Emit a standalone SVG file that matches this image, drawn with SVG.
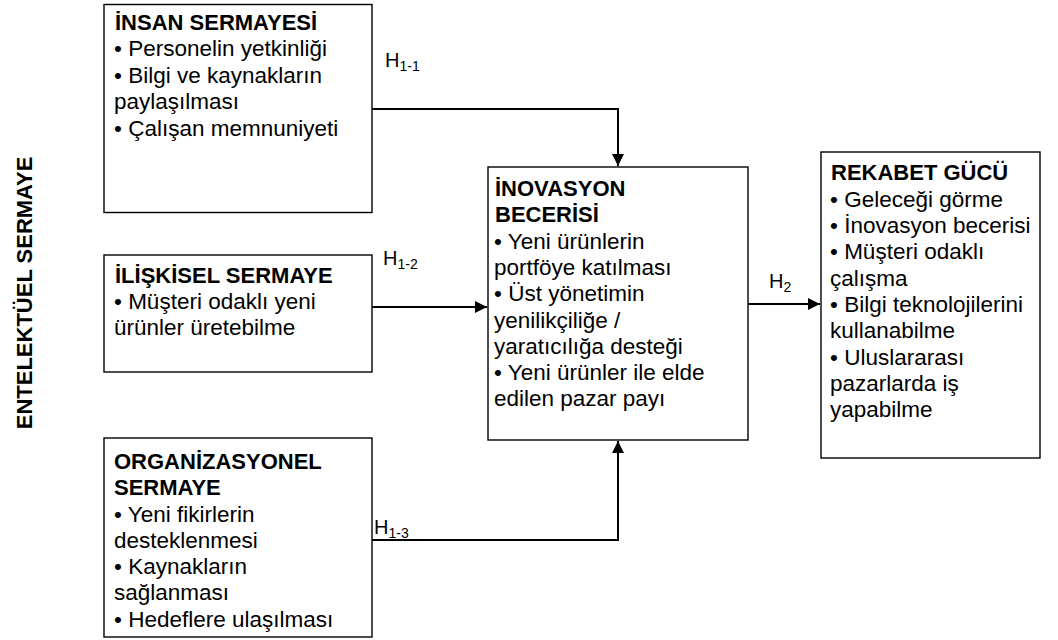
<svg xmlns="http://www.w3.org/2000/svg" width="1058" height="640" viewBox="0 0 1058 640">
  <style>
    .box { fill: #ffffff; stroke: #000000; stroke-width: 1.4; }
    .t { font-family: "Liberation Sans", Arial, sans-serif; font-size: 22.5px; fill: #000000; }
    .b { font-weight: bold; font-size: 22px; }
    .h { font-family: "Liberation Sans", Arial, sans-serif; font-size: 20px; fill: #000000; }
    .sub { font-size: 14px; }
    .edge { fill: none; stroke: #000000; stroke-width: 2; }
  </style>
  <defs>
    <marker id="arrow" viewBox="0 0 10 10" refX="10" refY="5" markerWidth="6" markerHeight="6" markerUnits="strokeWidth" orient="auto">
      <path d="M0,0 L10,5 L0,10 Z" fill="#000000"/>
    </marker>
  </defs>

  <rect width="1058" height="640" fill="#ffffff"/>

  <!-- side caption -->
  <text class="t b" transform="translate(32,293) rotate(-90)" text-anchor="middle">ENTELEKTÜEL SERMAYE</text>

  <!-- connectors -->
  <g id="connectors">
    <path class="edge" d="M372,109 H618 V166" marker-end="url(#arrow)"/>
    <path class="edge" d="M372,307 H487" marker-end="url(#arrow)"/>
    <path class="edge" d="M372,540 H618 V441" marker-end="url(#arrow)"/>
    <path class="edge" d="M748,304 H820" marker-end="url(#arrow)"/>
  </g>

  <!-- hypothesis labels -->
  <g id="labels">
    <text class="h" x="385" y="67">H<tspan class="sub" dy="4">1-1</tspan></text>
    <text class="h" x="383" y="265">H<tspan class="sub" dy="4">1-2</tspan></text>
    <text class="h" x="374" y="534">H<tspan class="sub" dy="4">1-3</tspan></text>
    <text class="h" x="769" y="288">H<tspan class="sub" dy="4">2</tspan></text>
  </g>

  <g id="insan-sermayesi">
    <rect class="box" x="104" y="4.5" width="268" height="208"/>
    <text class="t b" x="115" y="30">İNSAN SERMAYESİ</text>
    <text class="t" x="114" y="56">• Personelin yetkinliği</text>
    <text class="t" x="114" y="83">• Bilgi ve kaynakların</text>
    <text class="t" x="114" y="109">paylaşılması</text>
    <text class="t" x="114" y="136">• Çalışan memnuniyeti</text>
  </g>

  <g id="iliskisel-sermaye">
    <rect class="box" x="104" y="255" width="268" height="117"/>
    <text class="t b" x="115" y="283">İLİŞKİSEL SERMAYE</text>
    <text class="t" x="114" y="309">• Müşteri odaklı yeni</text>
    <text class="t" x="114" y="335">ürünler üretebilme</text>
  </g>

  <g id="organizasyonel-sermaye">
    <rect class="box" x="104" y="438" width="268" height="199"/>
    <text class="t b" x="114" y="469">ORGANİZASYONEL</text>
    <text class="t b" x="114" y="495">SERMAYE</text>
    <text class="t" x="114" y="522">• Yeni fikirlerin</text>
    <text class="t" x="114" y="548">desteklenmesi</text>
    <text class="t" x="114" y="574">• Kaynakların</text>
    <text class="t" x="114" y="600">sağlanması</text>
    <text class="t" x="114" y="627">• Hedeflere ulaşılması</text>
  </g>

  <g id="inovasyon-becerisi">
    <rect class="box" x="488" y="167" width="260" height="273"/>
    <text class="t b" x="495" y="196">İNOVASYON</text>
    <text class="t b" x="495" y="222">BECERİSİ</text>
    <text class="t" x="494" y="249">• Yeni ürünlerin</text>
    <text class="t" x="494" y="275">portföye katılması</text>
    <text class="t" x="494" y="301">• Üst yönetimin</text>
    <text class="t" x="494" y="328">yenilikçiliğe /</text>
    <text class="t" x="494" y="354">yaratıcılığa desteği</text>
    <text class="t" x="494" y="380">• Yeni ürünler ile elde</text>
    <text class="t" x="494" y="406">edilen pazar payı</text>
  </g>

  <g id="rekabet-gucu">
    <rect class="box" x="821" y="152" width="219" height="306"/>
    <text class="t b" x="831" y="180">REKABET GÜCÜ</text>
    <text class="t" x="830" y="207">• Geleceği görme</text>
    <text class="t" x="830" y="233">• İnovasyon becerisi</text>
    <text class="t" x="830" y="259">• Müşteri odaklı</text>
    <text class="t" x="830" y="286">çalışma</text>
    <text class="t" x="830" y="312">• Bilgi teknolojilerini</text>
    <text class="t" x="830" y="338">kullanabilme</text>
    <text class="t" x="830" y="365">• Uluslararası</text>
    <text class="t" x="830" y="391">pazarlarda iş</text>
    <text class="t" x="830" y="417">yapabilme</text>
  </g>
</svg>
